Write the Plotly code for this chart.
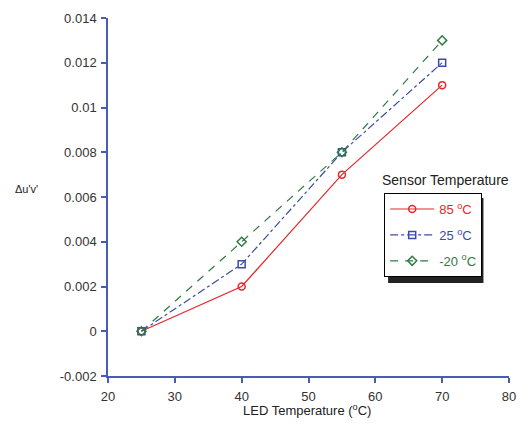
import plotly.graph_objects as go

led_temp = [25, 40, 55, 70]
s85 = [0, 0.002, 0.007, 0.011]
s25 = [0, 0.003, 0.008, 0.012]
sm20 = [0, 0.004, 0.008, 0.013]
series_names = ["85 <sup>o</sup>C", "25 <sup>o</sup>C", "-20 <sup>o</sup>C"]

RED = "#e8262b"
BLUE = "#3b4ca6"
GREEN = "#2f7a45"
AXIS = "#4a5bb5"
TXT = "#333333"

fig = go.Figure()
specs = [
    (s85, series_names[0], RED, "solid", "circle-open"),
    (s25, series_names[1], BLUE, "8px,3px,3px,3px", "square-open"),
    (sm20, series_names[2], GREEN, "8px,7px", "diamond-open"),
]
for i, (vals, name, col, dash, sym) in enumerate(specs):
    fig.add_trace(go.Scatter(
        x=led_temp, y=vals, mode="lines+markers",
        name=f"<span style='color:{col}'>{name}</span>",
        legendgroup=f"g{i}",
        line=dict(color=col, width=1.2, dash=dash),
        marker=dict(symbol=sym, size=7, color=col, line=dict(width=1.5, color=col)),
    ))

L, R, T, B = 108, 11, 14, 62
W, H = 527, 438
pw, ph = W - L - R, H - T - B

def px_x(px):
    return (px - L) / pw

def px_y(py):
    return (H - B - py) / ph

fig.update_layout(
    width=W, height=H,
    margin=dict(l=L, r=R, t=T, b=B),
    paper_bgcolor="white", plot_bgcolor="white",
    font=dict(family="Liberation Sans, Arial, sans-serif", size=13, color=TXT),
    showlegend=True,
    legend=dict(
        x=px_x(389), y=px_y(191), xanchor="left", yanchor="top",
        bgcolor="white", bordercolor="black", borderwidth=1,
        font=dict(size=13), tracegroupgap=6, traceorder="grouped",
        itemwidth=44,
    ),
    xaxis=dict(
        range=[20, 80], tickvals=[20, 30, 40, 50, 60, 70, 80],
        showgrid=False, zeroline=False, showline=True, linecolor=AXIS, linewidth=1.5,
        ticks="outside", tickcolor=AXIS, ticklen=5, tickwidth=1.5,
        tickfont=dict(size=13, color=TXT), ticklabelstandoff=3,
    ),
    yaxis=dict(
        range=[-0.002, 0.014], tickvals=[-0.002, 0, 0.002, 0.004, 0.006, 0.008, 0.01, 0.012, 0.014],
        ticktext=["-0.002", "0", "0.002", "0.004", "0.006", "0.008", "0.01", "0.012", "0.014"],
        showgrid=False, zeroline=False, showline=True, linecolor=AXIS, linewidth=1.5,
        ticks="outside", tickcolor=AXIS, ticklen=5, tickwidth=1.5,
        tickfont=dict(size=13, color=TXT), ticklabelstandoff=2,
    ),
)

# legend shadow
fig.add_shape(type="rect", xref="paper", yref="paper",
              x0=px_x(393), x1=px_x(490), y0=px_y(282), y1=px_y(196),
              fillcolor="#222222", line=dict(width=0), layer="below")

fig.add_annotation(text="Sensor Temperature", xref="paper", yref="paper",
                   x=px_x(451), y=px_y(178), showarrow=False,
                   xanchor="center", yanchor="middle",
                   font=dict(size=14, color="#222222"))
fig.add_annotation(text="Δu'v'", xref="paper", yref="paper",
                   x=px_x(25), y=px_y(187), showarrow=False,
                   xanchor="center", yanchor="middle",
                   font=dict(size=11, color="#222222"))
fig.add_annotation(text="LED Temperature (<sup>o</sup>C)", xref="paper", yref="paper",
                   x=px_x(310), y=px_y(410), showarrow=False,
                   xanchor="center", yanchor="middle",
                   font=dict(size=13, color="#222222"))

fig.write_html("out.html", config={"displayModeBar": False},
               post_script="document.body.style.margin='0';")
